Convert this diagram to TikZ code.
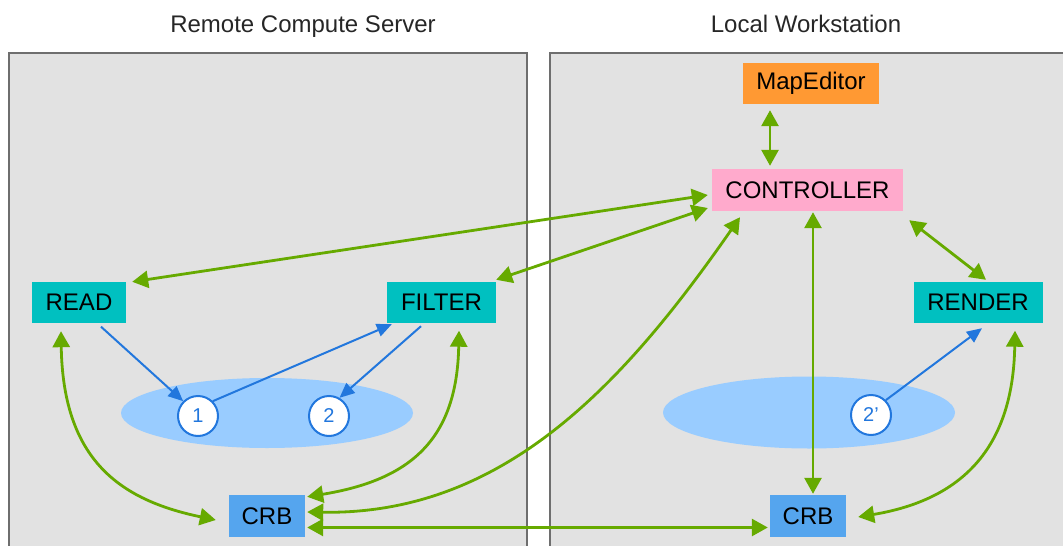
\documentclass[tikz,border=0pt]{standalone}
\usepackage{fontspec}
\setmainfont{Liberation Sans}
\usetikzlibrary{arrows.meta}

\definecolor{panelgray}{HTML}{E2E2E2}
\definecolor{panelline}{HTML}{6E6E6E}
\definecolor{linkgreen}{HTML}{66AA00}
\definecolor{flowblue}{HTML}{2277DD}
\definecolor{modcyan}{HTML}{00C0C0}
\definecolor{crbblue}{HTML}{55A5EE}
\definecolor{poolblue}{HTML}{99CCFF}
\definecolor{maporange}{HTML}{FF9933}
\definecolor{ctrlpink}{HTML}{FFAACC}

\begin{document}
\begin{tikzpicture}[x=1pt,y=-1pt,
	box/.style={rectangle,inner sep=0pt,minimum height=41pt,font={\fontsize{24}{28}\selectfont}},
	slot/.style={circle,draw=flowblue,line width=2pt,fill=white,minimum size=40pt,inner sep=0pt,
		text=flowblue,font={\fontsize{20}{24}\selectfont}},
	link/.style={linkgreen,line width=2.8pt,{Triangle[length=16pt,width=17pt]}-{Triangle[length=16pt,width=17pt]}},
	flow/.style={flowblue,line width=2pt,-{Triangle[length=15pt,width=13pt]}},
	title/.style={anchor=base,text=black!85,font={\fontsize{24}{28}\selectfont}}]
	\useasboundingbox (0,0) rectangle (1063,546);

	% panels
	\filldraw [fill=panelgray,draw=panelline,line width=2pt] (9,53) rectangle (527,560);
	\filldraw [fill=panelgray,draw=panelline,line width=2pt] (550,53) rectangle (1080,560);
	\node [title] (remote) at (303,32) {Remote Compute Server};
	\node [title] (local) at (806,32) {Local Workstation};

	% shared data
	\fill [poolblue] (267,413) ellipse (146 and 35);
	\fill [poolblue] (809,412.5) ellipse (146 and 36);

	% modules
	\node [box,fill=maporange,minimum width=136pt] (map) at (811,83.5) {MapEditor};
	\node [box,fill=ctrlpink,minimum width=191pt,minimum height=42pt] (ctrl) at (807.5,190) {CONTROLLER};
	\node [box,fill=modcyan,minimum width=94pt] (read) at (79,302.5) {READ};
	\node [box,fill=modcyan,minimum width=109pt] (filter) at (441.5,302.5) {FILTER};
	\node [box,fill=modcyan,minimum width=129pt] (render) at (978,302.5) {RENDER};
	\node [box,fill=crbblue,minimum width=76pt,minimum height=42pt] (crbL) at (267,516) {CRB};
	\node [box,fill=crbblue,minimum width=76pt,minimum height=42pt] (crbR) at (808,516) {CRB};

	% objects
	\node [slot] (o1) at (198,416) {1};
	\node [slot] (o2) at (329,416) {2};
	\node [slot] (o2p) at (871,415) {2\char"0027};

	% data flow
	\draw [flow] ([xshift=22pt,yshift=-3.5pt]read.south) -- (o1.north west);
	\draw [flow] (o1.north east) -- ([xshift=5pt,yshift=-1pt]filter.south west);
	\draw [flow] ([xshift=-20.5pt,yshift=-3pt]filter.south) -- (o2.60);
	\draw [flow] (o2p.45) -- ([xshift=4pt,yshift=-5pt]render.south);

	% controller links
	\draw [link] ([xshift=-41pt,yshift=-6pt]map.south) -- ([xshift=-37.5pt,yshift=3pt]ctrl.north);
	\draw [link] ([xshift=-4pt,yshift=-5pt]ctrl.west) -- ([xshift=6pt]read.north east);
	\draw [link] ([xshift=-4pt,yshift=-18pt]ctrl.west) -- ([yshift=2pt]filter.north east);
	\draw [link] ([xshift=6pt,yshift=-9pt]ctrl.south east) -- ([xshift=8pt,yshift=2pt]render.north);
	\draw [link] ([xshift=5.5pt,yshift=-1pt]ctrl.south) -- ([xshift=5pt,yshift=1pt]crbR.north);

	% crb links
	\draw [link] ([xshift=2pt,yshift=-11.5pt]crbL.east) -- ([xshift=-2pt,yshift=-11.5pt]crbR.west);
	\draw [link] ([xshift=2pt,yshift=4pt]crbL.east) .. controls (500,515) and (620,390) .. ([xshift=-67.5pt,yshift=-6pt]ctrl.south);
	\draw [link] ([xshift=-18pt,yshift=-8pt]read.south) .. controls (63,460) and (120,500) .. ([xshift=-13pt,yshift=-4pt]crbL.west);
	\draw [link] ([xshift=17.5pt,yshift=-7.5pt]filter.south) .. controls (457,440) and (410,480) .. ([xshift=2pt,yshift=-2pt]crbL.north east);
	\draw [link] ([xshift=37pt,yshift=-7.5pt]render.south) .. controls (1013,450) and (960,500) .. ([xshift=12pt,yshift=-1pt]crbR.east);
\end{tikzpicture}
\end{document}
